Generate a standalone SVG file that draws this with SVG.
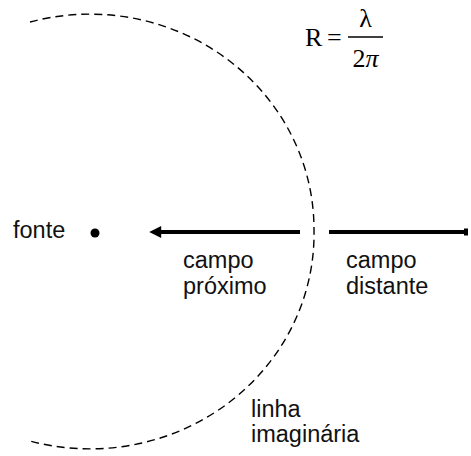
<svg xmlns="http://www.w3.org/2000/svg" width="471" height="456" viewBox="0 0 471 456">
<defs>
<style>
.lbl{font-family:"Liberation Sans",Arial,sans-serif;font-size:23.5px;fill:#111}
.math{font-family:"Liberation Serif","Times New Roman",serif;font-size:26px;fill:#000}
.dash{fill:none;stroke:#000;stroke-width:1.4;stroke-dasharray:8 5}
.bar{stroke:#000;stroke-width:4}
</style>
<marker id="ah" viewBox="0 0 10 10" refX="1" refY="5" markerWidth="3.5" markerHeight="3" orient="auto-start-reverse" markerUnits="strokeWidth">
<path d="M0,0 L10,5 L0,10 Z" fill="#000"/>
</marker>
</defs>
<rect width="471" height="456" fill="#fff"/>
<g id="connectors">
<path id="imaginary-line" class="dash" d="M30,22 A224 215 0 0 1 314,230 A224 215 0 0 1 30,441"/>
<line id="near-arrow" class="bar" x1="300" y1="232" x2="160" y2="232" marker-end="url(#ah)"/>
<line id="far-line" class="bar" x1="329" y1="232" x2="465" y2="232"/>
<rect x="464" y="228.5" width="4" height="7" fill="#000"/>
</g>
<g id="fonte">
<text class="lbl" x="13" y="238">fonte</text>
<circle cx="95" cy="233" r="4.5" fill="#000"/>
</g>
<g id="campo-proximo">
<text class="lbl" x="183" y="268">campo</text>
<text class="lbl" x="183" y="294">próximo</text>
</g>
<g id="campo-distante">
<text class="lbl" x="346" y="268">campo</text>
<text class="lbl" x="346" y="294">distante</text>
</g>
<g id="linha-imaginaria">
<text class="lbl" x="251" y="417">linha</text>
<text class="lbl" x="251" y="442">imaginária</text>
</g>
<g id="formula">
<text class="math" x="305" y="46">R</text>
<text class="math" x="327" y="46">=</text>
<line x1="348" y1="37" x2="383" y2="37" stroke="#000" stroke-width="1.5"/>
<text class="math" x="365.5" y="27" text-anchor="middle">λ</text>
<text class="math" x="365.5" y="67" text-anchor="middle">2<tspan font-style="italic">π</tspan></text>
</g>
</svg>
